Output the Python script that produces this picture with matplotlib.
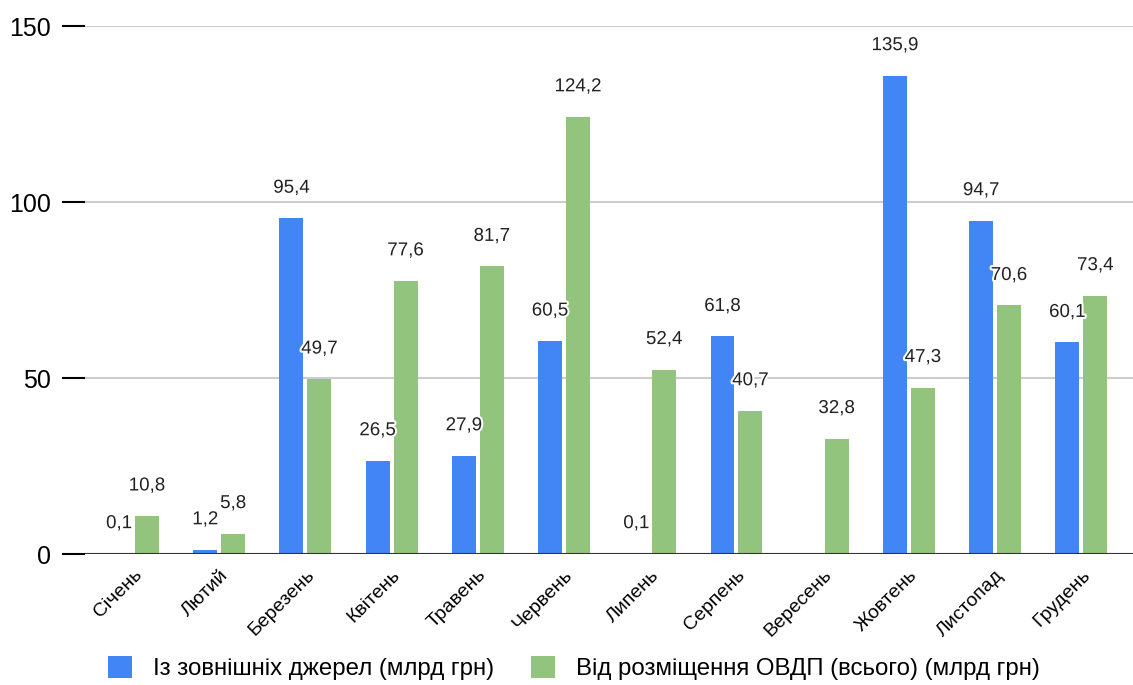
import matplotlib
matplotlib.use("Agg")
import matplotlib.pyplot as plt
import matplotlib.patheffects as pe
import numpy as np

plt.rcParams['font.family'] = ['Liberation Sans', 'DejaVu Sans']

months = ["Січень", "Лютий", "Березень", "Квітень", "Травень", "Червень",
          "Липень", "Серпень", "Вересень", "Жовтень", "Листопад", "Грудень"]
external = [0.1, 1.2, 95.4, 26.5, 27.9, 60.5, 0.1, 61.8, None, 135.9, 94.7, 60.1]
ovdp = [10.8, 5.8, 49.7, 77.6, 81.7, 124.2, 52.4, 40.7, 32.8, 47.3, 70.6, 73.4]
series_names = ["Із зовнішніх джерел (млрд грн)", "Від розміщення ОВДП (всього) (млрд грн)"]
yticks = [0, 50, 100, 150]

W, H = 1133, 685
fig = plt.figure(figsize=(W/100, H/100), dpi=100)
ax = fig.add_axes([85/W, (H-554)/H, (1133-85)/W, (554-26)/H])

x = np.arange(len(months))
bw = 0.278
off = 0.162
blue = '#4285F4'
green = '#93C47D'

ext_vals = [v if v is not None else 0 for v in external]
b1 = ax.bar(x - off, ext_vals, bw, color=blue, label=series_names[0], zorder=3)
b2 = ax.bar(x + off, ovdp, bw, color=green, label=series_names[1], zorder=3)

def fmt(v):
    return f"{v:.1f}".replace('.', ',')

halo = [pe.withStroke(linewidth=3, foreground='white')]
for xi, v in zip(x, external):
    if v is None:
        continue
    ax.annotate(fmt(v), (xi - off, v), xytext=(0, 21.6), textcoords='offset points',
                ha='center', va='center', fontsize=13.5, color='#222222', zorder=5,
                path_effects=halo)
for xi, v in zip(x, ovdp):
    ax.annotate(fmt(v), (xi + off, v), xytext=(0, 21.6), textcoords='offset points',
                ha='center', va='center', fontsize=13.5, color='#222222', zorder=5,
                path_effects=halo)

ax.set_ylim(0, 150)
ax.set_xlim(-0.557, 11.6)
ax.set_yticks(yticks)
ax.set_yticklabels([str(t) for t in yticks], fontsize=18)
ax.tick_params(axis='y', length=16.5, width=1.5, color='black', pad=8)
ax.set_xticks(x)
ax.set_xticklabels(months, rotation=45, ha='right', rotation_mode='anchor', fontsize=14)
ax.tick_params(axis='x', length=0, pad=9)
ax.yaxis.grid(True, color='#cccccc', linewidth=1.5, zorder=0)
for s in ax.spines.values():
    s.set_visible(False)
ax.axhline(0, color='#333333', linewidth=1.5, zorder=4)

leg = fig.legend(handles=[b1, b2], labels=series_names, loc='center',
                 bbox_to_anchor=(574/W, 1 - 668/H), ncol=2, frameon=False,
                 fontsize=17.3, handlelength=1.0, handleheight=1.0, columnspacing=1.5,
                 handletextpad=0.9)

fig.savefig('out.png', dpi=100)
